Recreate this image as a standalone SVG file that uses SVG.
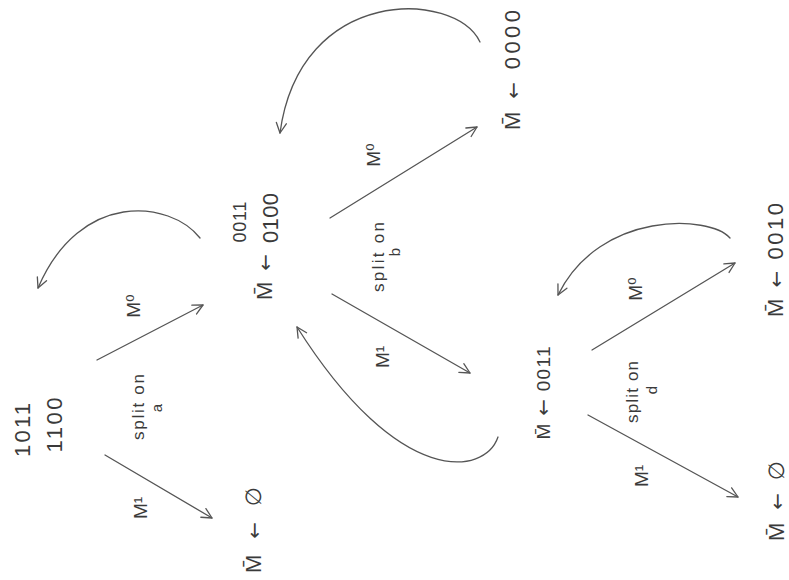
<svg xmlns="http://www.w3.org/2000/svg" width="789" height="580" viewBox="0 0 789 580">
<defs>
<marker id="ah" markerWidth="14" markerHeight="14" refX="11" refY="6" orient="auto" markerUnits="userSpaceOnUse">
<path d="M1,1 L11,6 L1,11" fill="none" stroke="#555" stroke-width="1.3" stroke-linecap="round" stroke-linejoin="round"/>
</marker>
<style>
.c{fill:none;stroke:#555;stroke-width:1.3;stroke-linecap:round}
text{font-family:"Liberation Sans","DejaVu Sans",sans-serif;fill:#3a3a3a;text-anchor:middle}
.n{font-size:22px}
.s{font-size:18px}
.l{font-size:17px}
.v{font-size:15px}
.m{font-size:19px}
tspan.a{font-family:"DejaVu Sans",sans-serif;font-size:20px}
</style>
</defs>
<rect width="789" height="580" fill="#fff"/>

<g id="connectors">
<path class="c" d="M97,360 L203,305" marker-end="url(#ah)"/>
<path class="c" d="M105,455 L212,518" marker-end="url(#ah)"/>
<path class="c" d="M200,238 C170,200 80,190 38,288" marker-end="url(#ah)"/>
<path class="c" d="M330,218 L477,127" marker-end="url(#ah)"/>
<path class="c" d="M480,42 C455,-10 300,-15 280,133" marker-end="url(#ah)"/>
<path class="c" d="M332,294 L470,373" marker-end="url(#ah)"/>
<path class="c" d="M498,437 C485,475 400,490 297,327" marker-end="url(#ah)"/>
<path class="c" d="M592,350 L735,263" marker-end="url(#ah)"/>
<path class="c" d="M730,238 C710,215 600,210 558,295" marker-end="url(#ah)"/>
<path class="c" d="M588,415 L738,497" marker-end="url(#ah)"/>
</g>

<g id="labels">
<g transform="translate(140,306) rotate(-90)"><text class="m">M⁰</text></g>
<g transform="translate(147,508) rotate(-90)"><text class="m">M¹</text></g>
<g transform="translate(144,407) rotate(-90)"><text class="l" textLength="66" lengthAdjust="spacing">split on</text></g>
<g transform="translate(162,408) rotate(-90)"><text class="v">a</text></g>

<g transform="translate(380,155) rotate(-90)"><text class="m">M⁰</text></g>
<g transform="translate(389,357) rotate(-90)"><text class="m">M¹</text></g>
<g transform="translate(384,257) rotate(-90)"><text class="l" textLength="70" lengthAdjust="spacing">split on</text></g>
<g transform="translate(400,252) rotate(-90)"><text class="v">b</text></g>

<g transform="translate(642,289) rotate(-90)"><text class="m">M⁰</text></g>
<g transform="translate(648,476) rotate(-90)"><text class="m">M¹</text></g>
<g transform="translate(638,392) rotate(-90)"><text class="l" textLength="62" lengthAdjust="spacing">split on</text></g>
<g transform="translate(657,390) rotate(-90)"><text class="v">d</text></g>
</g>

<g id="node-start">
<g transform="translate(30,430) rotate(-90)"><text class="n" textLength="54" lengthAdjust="spacing">1011</text></g>
<g transform="translate(62,425) rotate(-90)"><text class="n" textLength="55" lengthAdjust="spacing">1100</text></g>
</g>

<g id="node-empty-1">
<g transform="translate(261,530) rotate(-90)"><text class="n" textLength="86" lengthAdjust="spacing">M̄ <tspan class="a">←</tspan> ∅</text></g>
</g>

<g id="node-0011-0100">
<g transform="translate(272,277) rotate(-90)"><text class="n" textLength="46" lengthAdjust="spacing">M̄ <tspan class="a">←</tspan></text></g>
<g transform="translate(246,222) rotate(-90)"><text class="s" textLength="41" lengthAdjust="spacing">0011</text></g>
<g transform="translate(278,218) rotate(-90)"><text class="n" textLength="50" lengthAdjust="spacing">0100</text></g>
</g>

<g id="node-0000">
<g transform="translate(520,70) rotate(-90)"><text class="n" textLength="120" lengthAdjust="spacing">M̄ <tspan class="a">←</tspan> 0000</text></g>
</g>

<g id="node-0011">
<g transform="translate(550,393) rotate(-90)"><text class="n" style="font-size:19px" textLength="93" lengthAdjust="spacing">M̄ <tspan class="a">←</tspan> 0011</text></g>
</g>

<g id="node-0010">
<g transform="translate(783,260) rotate(-90)"><text class="n" textLength="114" lengthAdjust="spacing">M̄ <tspan class="a">←</tspan> 0010</text></g>
</g>

<g id="node-empty-2">
<g transform="translate(784,501) rotate(-90)"><text class="n" textLength="80" lengthAdjust="spacing">M̄ <tspan class="a">←</tspan> ∅</text></g>
</g>
</svg>
